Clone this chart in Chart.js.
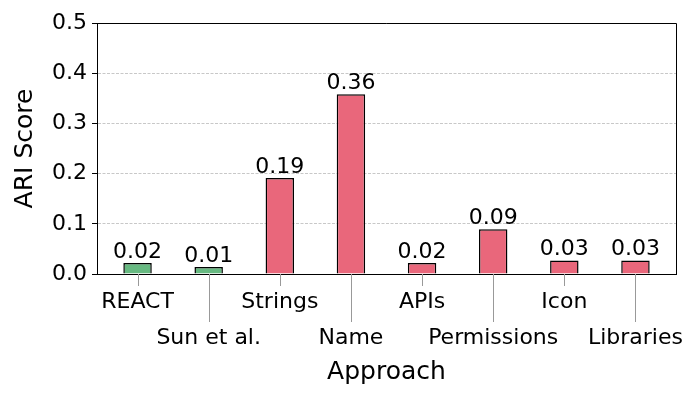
<!DOCTYPE html>
<html>
<head>
<meta charset="utf-8">
<script src="https://cdn.jsdelivr.net/npm/chart.js@4/dist/chart.umd.min.js"></script>
<style>
  body { margin: 0; background: #fff; }
  canvas { display: block; }
</style>
</head>
<body>
<canvas id="ariChart" width="700" height="400"></canvas>
<script>
const categories = ['REACT', 'Sun et al.', 'Strings', 'Name', 'APIs', 'Permissions', 'Icon', 'Libraries'];
const ariScores = [0.022, 0.014, 0.191, 0.358, 0.022, 0.089, 0.027, 0.027];
const groups = ['baseline', 'baseline', 'feature', 'feature', 'feature', 'feature', 'feature', 'feature'];
const yTicks = [0, 0.1, 0.2, 0.3, 0.4, 0.5];

const groupColors = { baseline: '#67b981', feature: '#e9677b' };
const FONT = 'DejaVu Sans';

// top/right spines, staggered x tick marks, value labels
const extras = {
  id: 'extras',
  afterDraw(chart) {
    const { ctx, chartArea } = chart;
    const xs = chart.scales.x;
    ctx.save();
    ctx.strokeStyle = '#999';
    ctx.lineWidth = 1;
    categories.forEach((c, i) => {
      const x = Math.round(xs.getPixelForValue(i)) + 0.5;
      ctx.beginPath();
      ctx.moveTo(x, chartArea.bottom);
      ctx.lineTo(x, chartArea.bottom + (i % 2 ? 48 : 12));
      ctx.stroke();
    });
    ctx.strokeStyle = '#000';
    ctx.beginPath();
    ctx.moveTo(chartArea.left, chartArea.top + 0.5);
    ctx.lineTo(chartArea.right + 0.5, chartArea.top + 0.5);
    ctx.lineTo(chartArea.right + 0.5, chartArea.bottom);
    ctx.stroke();

    ctx.fillStyle = '#000';
    ctx.font = '22px "' + FONT + '"';
    ctx.textAlign = 'center';
    ctx.textBaseline = 'alphabetic';
    chart.getDatasetMeta(0).data.forEach((bar, i) => {
      ctx.fillText(ariScores[i].toFixed(2), bar.x, bar.y - 5);
    });
    ctx.restore();
  }
};

new Chart(document.getElementById('ariChart'), {
  type: 'bar',
  data: {
    datasets: [{
      data: categories.map((c, i) => ({ x: i, y: ariScores[i] })),
      backgroundColor: groups.map(g => groupColors[g]),
      borderColor: '#000',
      borderWidth: 1.5,
      barPercentage: 0.4,
      categoryPercentage: 1
    }]
  },
  options: {
    responsive: false,
    animation: false,
    layout: { padding: { top: 23, right: 24, left: 0, bottom: 0 } },
    plugins: { legend: { display: false }, tooltip: { enabled: false } },
    scales: {
      x: {
        type: 'linear',
        offset: false,
        bounds: 'data',
        min: -0.57,
        max: 7.57,
        afterBuildTicks: s => { s.ticks = categories.map((c, i) => ({ value: i })); },
        afterFit: s => { s.height = 126; },
        grid: { display: false, drawTicks: false, offset: false },
        border: { display: true, color: '#000', width: 1 },
        ticks: {
          autoSkip: false,
          maxRotation: 0,
          padding: 11,
          color: '#000',
          font: { family: FONT, size: 22, lineHeight: 1.6 },
          callback: (v) => (v % 2 ? ['', categories[v]] : categories[v])
        },
        title: {
          display: true,
          text: 'Approach',
          color: '#000',
          font: { family: FONT, size: 25, lineHeight: 1.2 },
          padding: { top: 0, bottom: 13 }
        }
      },
      y: {
        min: 0,
        max: 0.5,
        afterBuildTicks: s => { s.ticks = yTicks.map(v => ({ value: v })); },
        afterFit: s => { s.width = 97; },
        grid: {
          color: '#c8c8c8',
          lineWidth: 1,
          tickColor: '#000',
          tickLength: 5,
          tickBorderDash: []
        },
        border: { display: true, color: '#000', width: 1, dash: [3, 1.5] },
        ticks: {
          padding: 5,
          color: '#000',
          font: { family: FONT, size: 22 },
          callback: v => v.toFixed(1)
        },
        title: {
          display: true,
          text: 'ARI Score',
          color: '#000',
          font: { family: FONT, size: 25, lineHeight: 1.2 },
          padding: { top: 10, bottom: 0 }
        }
      }
    }
  },
  plugins: [extras]
});
</script>
</body>
</html>
